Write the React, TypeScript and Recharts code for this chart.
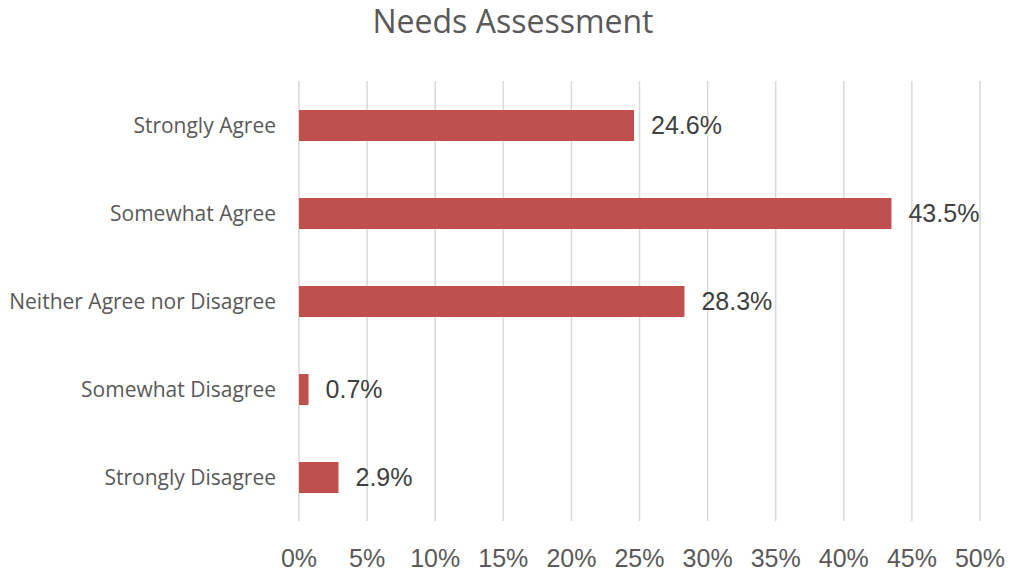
import { BarChart, Bar, XAxis, YAxis, CartesianGrid, LabelList } from "recharts";

const categories = ["Strongly Agree", "Somewhat Agree", "Neither Agree nor Disagree", "Somewhat Disagree", "Strongly Disagree"];
const values = [24.6, 43.5, 28.3, 0.7, 2.9];
const xTicks = [0, 5, 10, 15, 20, 25, 30, 35, 40, 45, 50];

const data = categories.map((name, i) => ({ name, value: values[i] }));

const CategoryTick = ({ x, y, payload }: any) => (
  <text x={x} y={y} textAnchor="end" dominantBaseline="central" fill="#595959" fontSize={21} fontFamily="'Open Sans', sans-serif">
    {payload.value}
  </text>
);

const PercentTick = ({ x, y, payload }: any) => (
  <text x={x} y={y + 37} textAnchor="middle" dominantBaseline="central" fill="#595959" fontSize={25} fontFamily="'Liberation Sans', Arial, sans-serif">
    {payload.value}%
  </text>
);

export default function App() {
  return (
    <div style={{ position: "absolute", left: 0, top: 0, width: 1010, height: 577, background: "#fff" }}>
      <div
        style={{
          position: "absolute",
          left: 0,
          top: 0,
          width: 1026,
          textAlign: "center",
          fontFamily: "'Open Sans', sans-serif",
          fontSize: 32,
          color: "#595959",
          lineHeight: "42px",
        }}
      >
        Needs Assessment
      </div>
      <BarChart width={1010} height={577} data={data} layout="vertical" margin={{ top: 81, right: 30, bottom: 0, left: 0 }}>
        <CartesianGrid horizontal={false} stroke="#d9d9d9" strokeWidth={1.5} />
        <XAxis
          type="number"
          domain={[0, 50]}
          ticks={xTicks}
          interval={0}
          height={56}
          axisLine={false}
          tickLine={false}
          tickSize={0}
          tickMargin={0}
          tick={<PercentTick />}
        />
        <YAxis
          type="category"
          dataKey="name"
          width={299}
          axisLine={false}
          tickLine={false}
          tickSize={0}
          tickMargin={23}
          tick={<CategoryTick />}
        />
        <Bar dataKey="value" fill="#C0504D" barSize={31} isAnimationActive={false}>
          <LabelList
            dataKey="value"
            position="right"
            offset={17}
            formatter={(v: any) => `${v}%`}
            fill="#404040"
            fontSize={25}
            fontFamily="'Liberation Sans', Arial, sans-serif"
          />
        </Bar>
      </BarChart>
    </div>
  );
}
